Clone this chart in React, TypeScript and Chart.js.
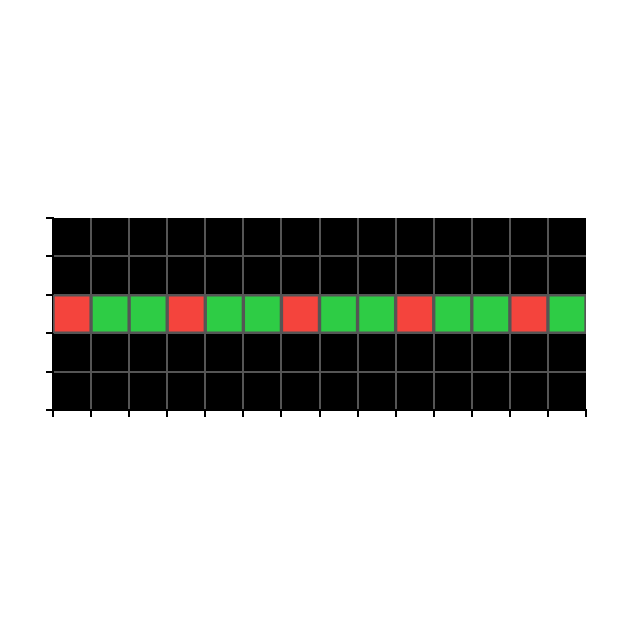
import React, { useEffect, useRef } from "react";
import { Chart, registerables } from "chart.js";

Chart.register(...registerables);

const columns = ["1", "2", "3", "4", "5", "6", "7", "8", "9", "10", "11", "12", "13", "14"];
const cellState = ["red", "green", "green", "red", "green", "green", "red", "green", "green", "red", "green", "green", "red", "green"];
const rowLow = 2;
const rowHigh = 3;
const yMin = 0;
const yMax = 5;

const palette: Record<string, string> = { red: "#F4443D", green: "#2ECC45" };
const gridGray = "#555555";
const clear = "rgba(0,0,0,0)";

const bgPlugin = {
  id: "plotBg",
  beforeDraw(chart: any) {
    const { ctx, chartArea } = chart;
    ctx.save();
    ctx.fillStyle = "#000000";
    ctx.fillRect(chartArea.left, chartArea.top, chartArea.right - chartArea.left, chartArea.bottom - chartArea.top);
    ctx.restore();
  },
};

export default function App() {
  const ref = useRef<HTMLCanvasElement>(null);
  useEffect(() => {
    if (!ref.current) return;
    const chart = new Chart(ref.current, {
      type: "bar",
      data: {
        labels: columns,
        datasets: [
          {
            data: cellState.map(() => [rowLow, rowHigh]) as any,
            backgroundColor: cellState.map((s) => palette[s]),
            borderColor: gridGray,
            borderWidth: 2,
            borderSkipped: false,
            barPercentage: 1,
            categoryPercentage: 1,
          },
        ],
      },
      options: {
        responsive: false,
        animation: false,
        plugins: { legend: { display: false }, tooltip: { enabled: false } },
        layout: { padding: { top: 218, right: 43, bottom: 212, left: 46 } },
        scales: {
          x: {
            type: "category",
            offset: true,
            grid: {
              offset: true,
              color: (c: any) => (c.type !== "tick" || c.index === 0 ? clear : gridGray),
              lineWidth: 2,
              tickColor: "#000000",
              tickLength: 7,
              tickWidth: 2,
            },
            border: { color: "#000000", width: 2 },
            ticks: { display: false },
          },
          y: {
            type: "linear",
            min: yMin,
            max: yMax,
            grid: {
              color: (c: any) => (c.type !== "tick" || c.tick.value === yMax || c.tick.value === yMin ? clear : gridGray),
              lineWidth: 2,
              tickColor: "#000000",
              tickLength: 7,
              tickWidth: 2,
            },
            border: { color: "#000000", width: 2 },
            ticks: { display: false, stepSize: 1 },
          },
        },
      },
      plugins: [bgPlugin],
    });
    return () => chart.destroy();
  }, []);
  return (
    <canvas
      ref={ref}
      width={629}
      height={629}
      style={{ position: "fixed", left: 0, top: 0, width: 629, height: 629, background: "#ffffff" }}
    />
  );
}
